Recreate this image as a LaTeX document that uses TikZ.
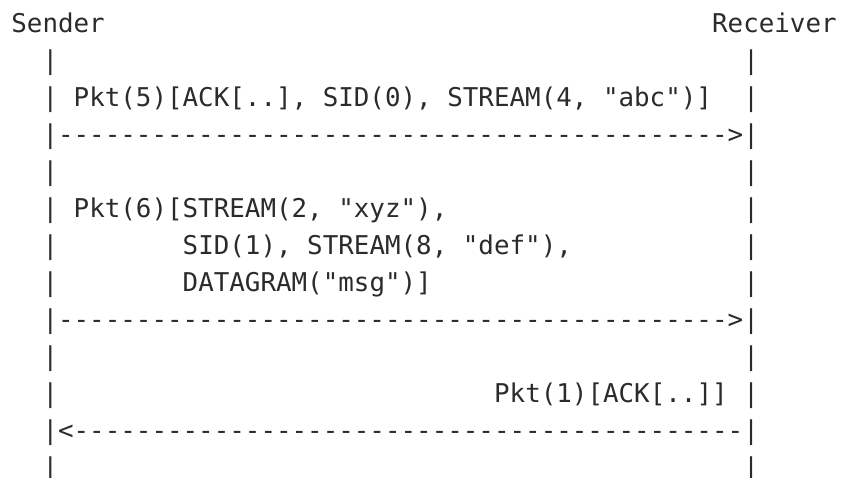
\documentclass[tikz,border=0pt]{standalone}
\usepackage{fontspec}
\setmonofont{DejaVu Sans Mono}
\definecolor{ink}{HTML}{2B2B2B}
\def\dashten{----------}
\def\wire{\dashten\dashten\dashten\dashten---}

\begin{document}
\begin{tikzpicture}[x=15.57pt,y=-37pt,
    every node/.style={anchor=base west,inner sep=0pt,text=ink,
      font=\ttfamily\fontsize{25.86pt}{37pt}\selectfont}]
  \useasboundingbox (-0.719,-0.865) rectangle (53.29,12.03);
  \node (sender) at (0,0) {Sender};
  \node (receiver) at (45,0) {Receiver};
  % lifelines, one bar per text row
  \foreach \r in {1,...,12} {
    \node (sl\r) at (2,\r) {|};
    \node (rl\r) at (47,\r) {|};
  }
  % first packet
  \node (pkt5) at (4,2) {Pkt(5)[ACK[..], SID(0), STREAM(4, "abc")]};
  \node (wire5) at (3,3) {\wire>};
  % second packet
  \node (pkt6) at (4,5) {Pkt(6)[STREAM(2, "xyz"),};
  \node (pkt6b) at (11,6) {SID(1), STREAM(8, "def"),};
  \node (pkt6c) at (11,7) {DATAGRAM("msg")]};
  \node (wire6) at (3,8) {\wire>};
  % acknowledgement
  \node (pkt1) at (31,10) {Pkt(1)[ACK[..]]};
  \node (wire1) at (3,11) {<\wire};
\end{tikzpicture}
\end{document}
